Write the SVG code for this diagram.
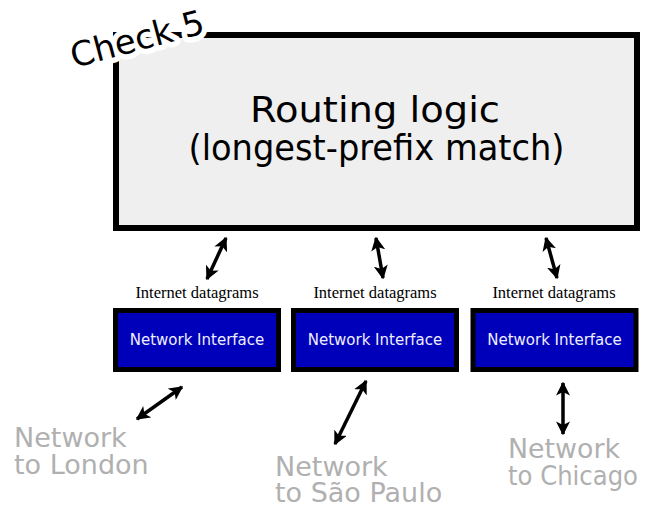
<svg xmlns="http://www.w3.org/2000/svg" width="652" height="505" viewBox="0 0 652 505">
  <defs>
    <marker id="ah" viewBox="0 0 10 10" refX="9" refY="5" markerWidth="4" markerHeight="4" orient="auto-start-reverse" markerUnits="strokeWidth">
      <path d="M0,0 L10,5 L0,10 L2.5,5 z" fill="#000"/>
    </marker>
  </defs>
  <style>
    .main { fill: #efefef; stroke: #000; stroke-width: 6; }
    .title { font-family: "DejaVu Sans", sans-serif; font-size: 36px; fill: #000; text-anchor: middle; }
    .ni { fill: #0000bb; stroke: #000; stroke-width: 5; }
    .nit { font-family: "DejaVu Sans", sans-serif; font-size: 15px; fill: #eeeeff; text-anchor: middle; }
    .dg { font-family: "Liberation Serif", serif; font-size: 16.5px; fill: #000; text-anchor: middle; }
    .net { font-family: "DejaVu Sans", sans-serif; font-size: 27px; fill: #b0b0b0; }
    .arr { stroke: #000; stroke-width: 3.5; fill: none; marker-start: url(#ah); marker-end: url(#ah); }
    .chk { font-family: "DejaVu Sans", sans-serif; font-size: 34px; fill: #000; stroke: #fff; stroke-width: 11; stroke-linejoin: round; paint-order: stroke; }
  </style>

  <g id="routing">
    <rect class="main" x="116" y="35" width="521" height="193"/>
    <text class="title" x="375" y="122" textLength="250" lengthAdjust="spacingAndGlyphs">Routing logic</text>
    <text class="title" x="376.5" y="160" textLength="376" lengthAdjust="spacingAndGlyphs">(longest-prefix match)</text>
  </g>

  <g id="check">
    <text class="chk" transform="translate(74,68) rotate(-15)">Check 5</text>
  </g>

  <g id="ni1">
    <text class="dg" x="197" y="298">Internet datagrams</text>
    <rect class="ni" x="115.5" y="310.5" width="163" height="59"/>
    <text class="nit" x="197" y="345">Network Interface</text>
  </g>
  <g id="ni2">
    <text class="dg" x="375" y="298">Internet datagrams</text>
    <rect class="ni" x="293.5" y="310.5" width="163" height="59"/>
    <text class="nit" x="375" y="345">Network Interface</text>
  </g>
  <g id="ni3">
    <text class="dg" x="554" y="298">Internet datagrams</text>
    <rect class="ni" x="473" y="310.5" width="163" height="59"/>
    <text class="nit" x="554.5" y="345">Network Interface</text>
  </g>

  <g id="london">
    <text class="net" x="14" y="447">Network</text>
    <text class="net" x="14" y="474">to London</text>
  </g>
  <g id="saopaulo">
    <text class="net" x="275" y="476">Network</text>
    <text class="net" x="275" y="502">to São Paulo</text>
  </g>
  <g id="chicago">
    <text class="net" x="508" y="458" textLength="112" lengthAdjust="spacingAndGlyphs">Network</text>
    <text class="net" x="508" y="485" textLength="130" lengthAdjust="spacingAndGlyphs">to Chicago</text>
  </g>

  <g id="connectors">
    <line class="arr" x1="226" y1="238" x2="207" y2="279"/>
    <line class="arr" x1="376" y1="238" x2="383" y2="278"/>
    <line class="arr" x1="546" y1="238" x2="557" y2="278"/>
    <line class="arr" x1="182" y1="387" x2="137" y2="419"/>
    <line class="arr" x1="366" y1="381" x2="335" y2="444"/>
    <line class="arr" x1="563" y1="383" x2="563" y2="434"/>
  </g>
</svg>
